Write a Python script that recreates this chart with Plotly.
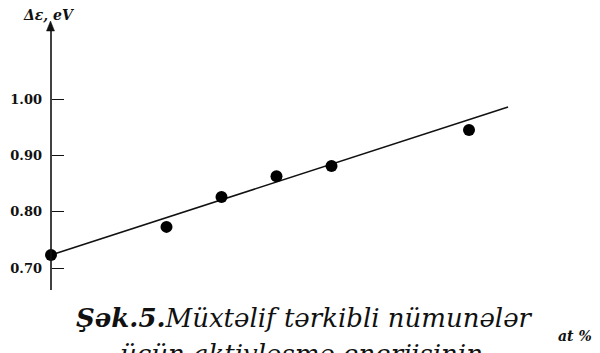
import plotly.graph_objects as go

# composition (at %) and activation energy (eV)
composition = [0.0, 2.1, 3.1, 4.1, 5.1, 7.6]
energy = [0.723, 0.773, 0.826, 0.863, 0.881, 0.945]

# linear fit drawn across the range
fit_x = [0.0, 8.31]
fit_y = [0.723, 0.986]

tick_vals = [0.70, 0.80, 0.90, 1.00]
tick_text = ["0.70", "0.80", "0.90", "1.00"]

W, H = 600, 353
X0_PX = 51          # pixel column of the vertical axis
PX_PER_X = 55.0
Y70_PX = 268        # pixel row of the 0.70 tick
PX_PER_Y = 563.3

x_range = [-X0_PX / PX_PER_X, (W - X0_PX) / PX_PER_X]
y_range = [0.70 - (H - Y70_PX) / PX_PER_Y, 0.70 + Y70_PX / PX_PER_Y]


def py(px_row):
    return 0.70 + (Y70_PX - px_row) / PX_PER_Y


serif = "DejaVu Serif"

fig = go.Figure()
fig.add_trace(go.Scatter(x=fit_x, y=fit_y, mode="lines",
                         line=dict(color="#111111", width=1.6),
                         hoverinfo="skip"))
fig.add_trace(go.Scatter(x=composition, y=energy, mode="markers",
                         marker=dict(color="black", size=12),
                         cliponaxis=False))

shapes = [
    # vertical axis line
    dict(type="line", xref="x", yref="y", x0=0, x1=0, y0=py(290), y1=py(28),
         line=dict(color="#111111", width=1.6)),
    # arrow head
    dict(type="path", xref="paper", yref="paper",
         path=f"M {50.5/W} {1-21/H} L {46.5/W} {1-31/H} L {54.5/W} {1-31/H} Z",
         fillcolor="#111111", line=dict(color="#111111", width=0.5)),
]

annotations = [
    dict(text="<b><i>Δε, eV</i></b>", xref="paper", yref="paper",
         x=21 / W, y=1 - 5 / H, xanchor="left", yanchor="top", showarrow=False,
         font=dict(family=serif, size=14, color="#111111")),
    dict(text="<b><i>at %</i></b>", xref="paper", yref="paper",
         x=575 / W, y=1 - 336 / H, xanchor="center", yanchor="middle",
         showarrow=False, font=dict(family=serif, size=14, color="#111111")),
    dict(text="<b><i>Şək.5.</i></b><i>Müxtəlif tərkibli nümunələr</i>",
         xref="paper", yref="paper", x=304 / W, y=1 - 318 / H,
         xanchor="center", yanchor="middle", showarrow=False,
         font=dict(family=serif, size=26, color="#111111")),
    dict(text="<i>üçün aktivləşmə enerjisinin</i>",
         xref="paper", yref="paper", x=301 / W, y=1 - 354 / H,
         xanchor="center", yanchor="middle", showarrow=False,
         font=dict(family=serif, size=26, color="#111111")),
]

fig.update_layout(
    width=W, height=H,
    margin=dict(l=0, r=0, t=0, b=0),
    paper_bgcolor="white", plot_bgcolor="white",
    showlegend=False,
    shapes=shapes,
    annotations=annotations,
    xaxis=dict(range=x_range, visible=False, fixedrange=True),
    yaxis=dict(range=y_range, showgrid=False, zeroline=False, showline=False,
               anchor="free", position=X0_PX / W,
               tickmode="array", tickvals=tick_vals,
               ticktext=[f"<b>{t}</b>" for t in tick_text],
               ticks="inside", ticklen=12, tickwidth=1.4, tickcolor="#111111",
               ticklabelstandoff=9,
               tickfont=dict(family=serif, size=13, color="#111111"),
               fixedrange=True),
)

fig.write_html("out.html")
